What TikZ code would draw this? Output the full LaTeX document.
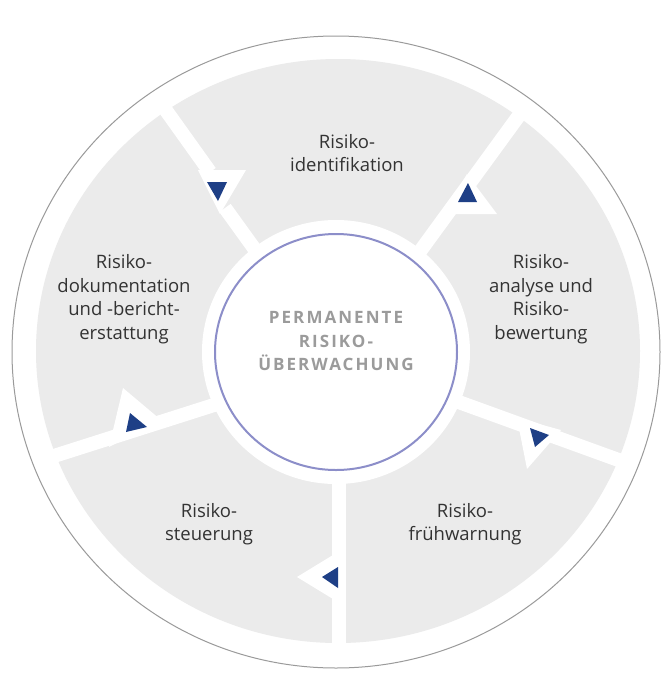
\documentclass[tikz,border=0pt]{standalone}
\usepackage{fontspec}
\setmainfont{Open Sans}
\definecolor{ringgray}{HTML}{EBEBEB}
\definecolor{rimgray}{HTML}{9A9A9A}
\definecolor{lavender}{HTML}{8C8EC9}
\definecolor{arrowblue}{HTML}{1E3F86}
\definecolor{txtgray}{HTML}{333333}
\definecolor{midgray}{HTML}{9B9B9B}

\begin{document}
\begin{tikzpicture}
  [x=1pt,y=-1pt,
   every node/.style={align=center,text=txtgray,font=\fontsize{18.5}{23.5}\selectfont},
   band/.style={white,line width=14pt},
   notch/.style={fill=white},
   tip/.style={fill=arrowblue}]
  \useasboundingbox[fill=white] (0,0) rectangle (661,686);
  \fill[ringgray] (338,351) ellipse [x radius=302,y radius=292];

  % white gaps between the five fields
  \coordinate (tlo) at (150,88);  \coordinate (tlm) at (210,172);
  \coordinate (tln) at (225,208); \coordinate (tli) at (300,312);
  \coordinate (tro) at (539,88);  \coordinate (tri) at (370,320);
  \coordinate (rlo) at (660,475); \coordinate (rli) at (420,388);
  \coordinate (bo) at (339,680);  \coordinate (bi) at (339,440);
  \coordinate (llo) at (10,470);  \coordinate (lli) at (250,393.5);
  \foreach \from/\to in {tlo/tlm,tln/tli,tro/tri,rlo/rli,bo/bi,llo/lli}
    \draw[band] (\from) -- (\to);

  % notches with their arrow tips
  \fill[notch] (198,170) -- (246,170) -- (220,214) -- cycle;
  \fill[notch] (467,174) -- (497,214) -- (444,214) -- cycle;
  \fill[notch] (517,418) -- (561,430) -- (527,469) -- cycle;
  \fill[notch] (333,555) -- (297,577) -- (333,599) -- cycle;
  \fill[notch] (123,388) -- (161,420) -- (109,447) -- cycle;
  \fill[tip] (207,182) -- (227,182) -- (218,201) -- cycle;
  \fill[tip] (468,183) -- (458,202) -- (477,202) -- cycle;
  \fill[tip] (530,428) -- (549,435) -- (535,447) -- cycle;
  \fill[tip] (322,577) -- (338,567) -- (338,588) -- cycle;
  \fill[tip] (130,413) -- (147,427) -- (126,432) -- cycle;

  % hub
  \fill[white] (336,352) ellipse [x radius=134,y radius=132];
  \draw[lavender,line width=2pt] (336,352) ellipse [x radius=121,y radius=118];
  \draw[rimgray,line width=1pt] (336,352) ellipse [x radius=324,y radius=316];

  \node (ident) at (347,153) {Risiko-\\identifikation};
  \node (analyse) at (541,299) {Risiko-\\analyse und\\Risiko-\\bewertung};
  \node (frueh) at (465,524) {Risiko-\\frühwarnung};
  \node (steuer) at (209,524) {Risiko-\\steuerung};
  \node (doku) at (124,299) {Risiko-\\dokumentation\\und -bericht-\\erstattung};
  \node (hub) at (336,341)
    [text=midgray,font=\fontsize{17}{23.5}\selectfont\bfseries\addfontfeatures{LetterSpace=12}]
    {PERMANENTE\\RISIKO-\\ÜBERWACHUNG};
\end{tikzpicture}
\end{document}
